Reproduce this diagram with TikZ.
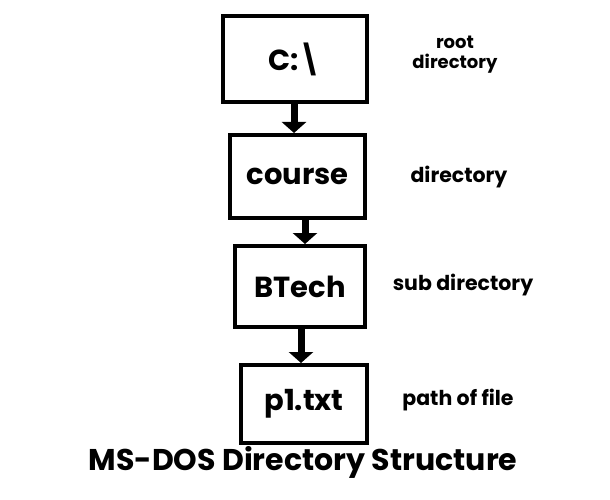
\documentclass[tikz,border=0pt]{standalone}
\usepackage{fontspec}
\setmainfont{Poppins}
\usetikzlibrary{arrows.meta}
\begin{document}
\begin{tikzpicture}[x=1pt,y=-1pt,
  dirbox/.style={draw=black,line width=4pt,fill=white,inner sep=0pt,font=\bfseries\fontsize{29}{31}\selectfont},
  lbl/.style={align=center,font=\bfseries\fontsize{20.5}{20}\selectfont},
  conn/.style={line width=7pt,-{Triangle[width=24pt,length=11pt]}}]
\useasboundingbox[fill=white] (0,0) rectangle (610,500);
\node[dirbox,minimum width=144pt,minimum height=86pt] (root) at (295,59) {C:\textbackslash};
\node[dirbox,minimum width=135pt,minimum height=83pt] (course) at (297.5,176.5) {course};
\node[dirbox,minimum width=130pt,minimum height=81pt] (btech) at (300,286.5) {BTech};
\node[dirbox,minimum width=126pt,minimum height=78pt] (file) at (304,404) {p1.txt};
\draw[conn] (root.south -| 294,0) -- (course.north -| 294,0);
\draw[conn] (course.south -| 305,0) -- (btech.north -| 305,0);
\draw[conn] (btech.south -| 301,0) -- (file.north -| 301,0);
\node[lbl,font=\bfseries\fontsize{18}{20}\selectfont] (l1) at (455,55) {root\\directory};
\node[lbl] (l2) at (459,177) {directory};
\node[lbl] (l3) at (463,285) {sub directory};
\node[lbl] (l4) at (458,400) {path of file};
\node[font=\bfseries\fontsize{30}{32}\selectfont] (title) at (303,462) {MS-DOS Directory Structure};
\end{tikzpicture}
\end{document}
